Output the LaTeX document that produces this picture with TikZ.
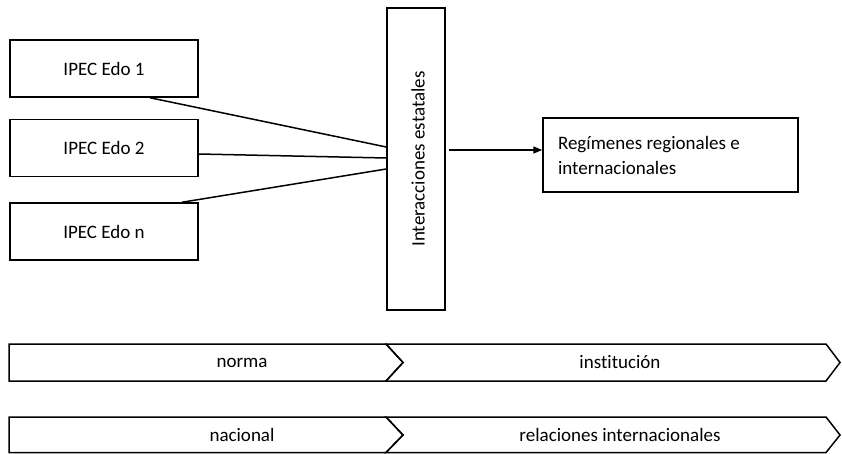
\documentclass[tikz,border=0pt]{standalone}
\usepackage{fontspec}
\setmainfont{Carlito}[Ligatures={NoCommon}]
\usetikzlibrary{arrows.meta}
\begin{document}
\begin{tikzpicture}[x=1pt,y=-1pt,
  every node/.style={font=\fontsize{19}{25}\selectfont},
  ipec/.style={draw,line width=1.5pt,minimum width=188pt,minimum height=57pt,inner sep=0pt},
  conn/.style={line width=1.5pt},
  chev/.style={draw,line width=1.5pt,line join=miter},
  lbl/.style={inner sep=0pt}]
\useasboundingbox (0,0) rectangle (842,454);
\node[ipec] (b1) at (104,68.5) {IPEC Edo 1};
\node[ipec] (b2) at (104,148) {IPEC Edo 2};
\node[ipec] (b3) at (104,231.5) {IPEC Edo n};
\node[draw,line width=1.5pt,minimum width=58pt,minimum height=302pt,inner sep=0pt] (vi) at (416,159) {};
\node[rotate=90,inner sep=0pt] (vt) at ([xshift=2pt]vi.center) {Interacciones estatales};
\node[draw,line width=1.5pt,minimum width=255pt,minimum height=74pt,text width=225pt,align=flush left,inner xsep=15pt,inner ysep=0pt] (reg) at (670.5,155) {Regímenes regionales e\\internacionales};
\draw[conn] ([xshift=46pt]b1.south) -- ([yshift=12pt]vi.west);
\draw[conn] ([yshift=-6pt]b2.east) -- ([yshift=1pt]vi.west);
\draw[conn] ([xshift=78pt]b3.north) -- ([yshift=-10pt]vi.west);
\draw[conn,-{Triangle[length=9pt,width=7pt]}] ([xshift=3pt,yshift=9pt]vi.east) -- ([yshift=5pt]reg.west);
% chevron bar 1
\draw[chev] (9,344) -- (386,344) -- (403,362.5) -- (386,381) -- (9,381) -- cycle;
\draw[chev] (386,344) -- (826,344) -- (840,362.5) -- (826,381) -- (386,381) -- (403,362.5) -- cycle;
\node[lbl] (n1) at (242,362.5) {norma};
\node[lbl] (n2) at (620,362.5) {institución};
% chevron bar 2
\draw[chev] (9,417) -- (386,417) -- (403,435) -- (386,452.5) -- (9,452.5) -- cycle;
\draw[chev] (386,417) -- (826,417) -- (840,435) -- (826,452.5) -- (386,452.5) -- (403,435) -- cycle;
\node[lbl] (n3) at (242,435) {nacional};
\node[lbl] (n4) at (620,435) {relaciones internacionales};
\end{tikzpicture}
\end{document}
